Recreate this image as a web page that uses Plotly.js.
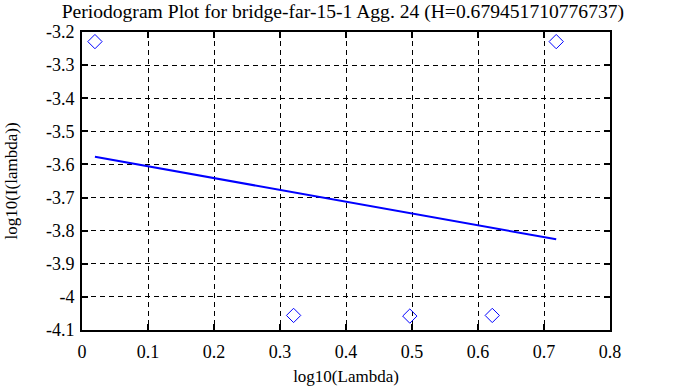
<!DOCTYPE html>
<html>
<head>
<meta charset="utf-8">
<script src="https://cdn.plot.ly/plotly-3.0.1.min.js"></script>
<style>html,body{margin:0;padding:0;background:#fff;}#chart{width:683px;height:387px;}</style>
</head>
<body>
<div id="chart"></div>
<script>
var pointX = [0.0196, 0.3206, 0.4967, 0.6216, 0.7185];
var pointY = [-3.229, -4.056, -4.058, -4.056, -3.229];
var fitX = [0.0196, 0.7185];
var fitY = [-3.577, -3.826];
var xTickVals = [0, 0.1, 0.2, 0.3, 0.4, 0.5, 0.6, 0.7, 0.8];
var xTickText = ["0", "0.1", "0.2", "0.3", "0.4", "0.5", "0.6", "0.7", "0.8"];
var yTickVals = [-3.2, -3.3, -3.4, -3.5, -3.6, -3.7, -3.8, -3.9, -4.0, -4.1];
var yTickText = ["-3.2", "-3.3", "-3.4", "-3.5", "-3.6", "-3.7", "-3.8", "-3.9", "-4", "-4.1"];
var titleText = "Periodogram Plot for bridge-far-15-1 Agg. 24 (H=0.679451710776737)";
var xTitle = "log10(Lambda)";
var yTitle = "log10(I(lambda))";

var fam = "Liberation Serif";
var tickFont = {family: fam, size: 18, color: "#000"};
var labelFont = {family: fam, size: 17, color: "#000"};
var titleFont = {family: fam, size: 19.6, color: "#000"};

var traces = [
  {x: pointX, y: pointY, mode: "markers", type: "scatter",
   marker: {symbol: "diamond-open", size: 11, color: "#0000ff", line: {width: 1, color: "#0000ff"}},
   showlegend: false, hoverinfo: "none"},
  {x: fitX, y: fitY, mode: "lines", type: "scatter",
   line: {color: "#0000ff", width: 2}, showlegend: false, hoverinfo: "none"}
];

var axisCommon = {
  showline: true, linecolor: "#000", linewidth: 2, mirror: "ticks",
  ticks: "inside", ticklen: 6, tickwidth: 2, tickcolor: "#000",
  showgrid: true, gridcolor: "#000", gridwidth: 1, griddash: "5px,4px",
  zeroline: false, tickfont: tickFont, tickmode: "array"
};

var layout = {
  width: 683, height: 387,
  margin: {l: 82, r: 73, t: 32, b: 57, pad: 0},
  paper_bgcolor: "#fff", plot_bgcolor: "#fff",
  font: labelFont,
  title: {text: titleText, font: titleFont, x: 0.502, xanchor: "center", y: 0.971, yanchor: "middle"},
  xaxis: Object.assign({}, axisCommon, {
    range: [0, 0.8], tickvals: xTickVals, ticktext: xTickText, ticklabelstandoff: 4,
    title: {text: xTitle, font: labelFont, standoff: 10}
  }),
  yaxis: Object.assign({}, axisCommon, {
    range: [-4.1, -3.2], tickvals: yTickVals, ticktext: yTickText, ticklabelstandoff: 2,
    title: {text: yTitle, font: labelFont, standoff: 24}
  })
};

Plotly.newPlot("chart", traces, layout, {staticPlot: true, displayModeBar: false});
</script>
</body>
</html>
